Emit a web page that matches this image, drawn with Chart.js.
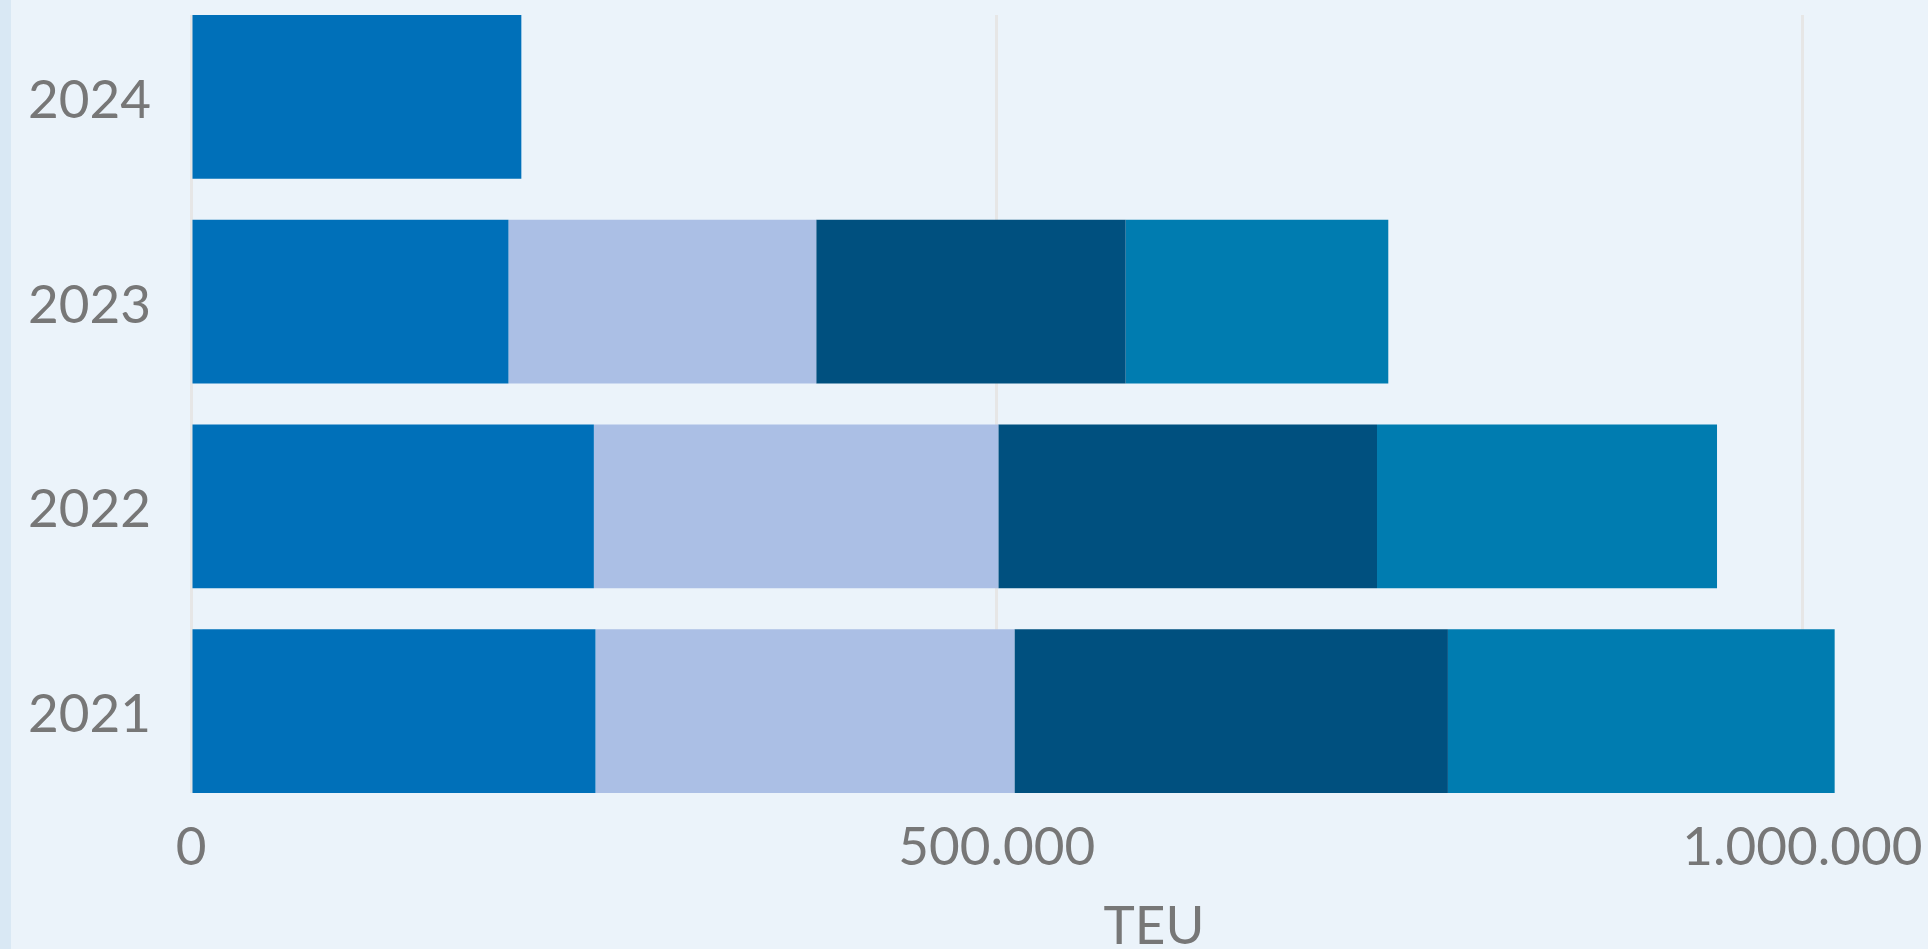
<!DOCTYPE html>
<html>
<head>
<meta charset="utf-8">
<script src="https://cdn.jsdelivr.net/npm/chart.js@4"></script>
<style>
html,body{margin:0;padding:0;background:#EBF3FA;width:1928px;height:949px;overflow:hidden}
#band{position:absolute;left:0;top:0;width:11px;height:949px;background:#D9E8F4}
#wrap{position:absolute;left:0;top:0;width:1928px;height:949px}
#teu{position:absolute;left:1054px;width:200px;text-align:center;top:897px;font-family:Lato,sans-serif;font-size:53px;line-height:53px;color:#777777}
</style>
</head>
<body>
<div id="band"></div>
<div id="wrap"><canvas id="c" width="1928" height="949"></canvas></div>
<div id="teu">TEU</div>
<script>
// Categories (bottom to top)
const categories = ['2021', '2022', '2023', '2024'];
const seriesNames = ['Q1', 'Q2', 'Q3', 'Q4'];
// Series values (TEU), one per category
const q1 = [251000, 250000, 197000, 205000];
const q2 = [260000, 251000, 191000, null];
const q3 = [269000, 235000, 192000, null];
const q4 = [240000, 211000, 163000, null];
const seriesColors = ['#0070B9', '#ABBFE5', '#00507F', '#007CB0'];
// Value-axis tick labels
const xTicks = [0, 500000, 1000000];

function fmt(v) {
  return String(v).replace(/\B(?=(\d{3})+(?!\d))/g, '.');
}

const allSeries = [q1, q2, q3, q4];
const textColor = '#777777';
const tickFont = { family: 'Lato', size: 53, weight: 'normal' };

function build() {
  const datasets = allSeries.map((vals, s) => ({
    label: seriesNames[s],
    data: vals.map((v, i) => ({ x: v, y: i })).filter(p => p.x !== null),
    backgroundColor: seriesColors[s],
    borderWidth: 0,
    stack: 'all',
    categoryPercentage: 0.8,
    barPercentage: 1.0
  }));

  new Chart(document.getElementById('c'), {
    type: 'bar',
    data: { datasets },
    options: {
      indexAxis: 'y',
      responsive: false,
      animation: false,
      layout: { padding: { top: 15, right: 45, bottom: 0, left: 0 } },
      plugins: { legend: { display: false }, tooltip: { enabled: false }, title: { display: false } },
      scales: {
        x: {
          type: 'linear',
          stacked: true,
          bounds: 'data',
          offset: false,
          min: 0,
          max: 1050000,
          afterBuildTicks: s => { s.ticks = xTicks.map(v => ({ value: v })); },
          afterFit: s => { s.height = 156; s.paddingLeft = 0; s.paddingRight = 0; },
          ticks: { callback: v => fmt(v), font: tickFont, color: textColor, padding: 23, maxRotation: 0, autoSkip: false },
          grid: { color: '#E6E6E6', lineWidth: 3, drawTicks: false, offset: false },
          border: { display: false }
        },
        y: {
          type: 'linear',
          bounds: 'data',
          offset: false,
          min: -0.4,
          max: 3.4,
          afterBuildTicks: s => { s.ticks = categories.map((_, i) => ({ value: i })); },
          afterFit: s => { s.width = 191; s.paddingTop = 0; s.paddingBottom = 0; },
          ticks: { callback: v => categories[v], font: tickFont, color: textColor, padding: 40, labelOffset: 4, autoSkip: false },
          grid: { display: false, drawTicks: false, offset: false },
          border: { display: false }
        }
      }
    }
  });
}

if (document.fonts && document.fonts.load) {
  document.fonts.load('53px Lato').then(build, build);
} else {
  build();
}
</script>
</body>
</html>
